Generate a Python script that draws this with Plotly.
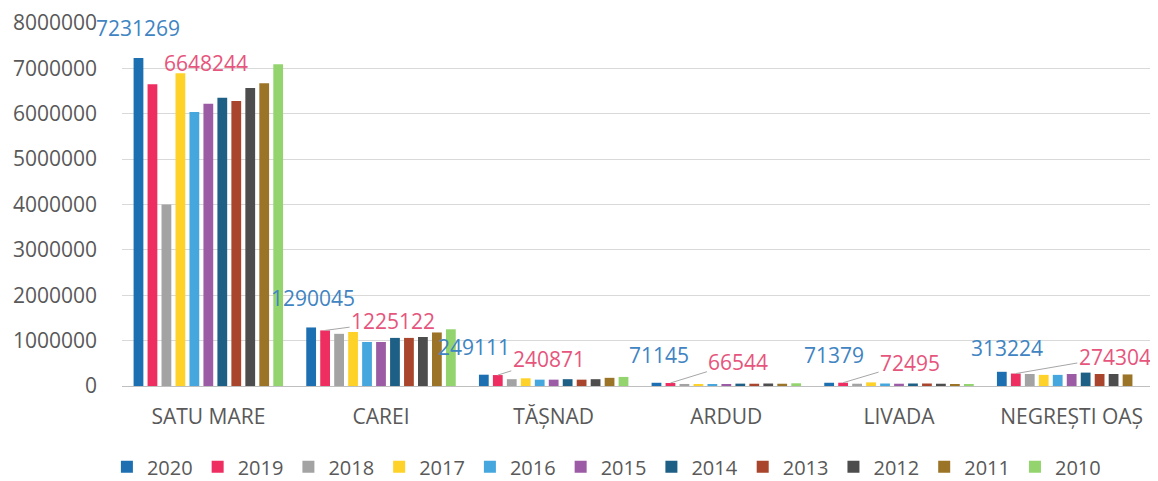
import plotly.graph_objects as go

categories = ["SATU MARE", "CAREI", "TĂȘNAD", "ARDUD", "LIVADA", "NEGREȘTI OAȘ"]
years = ["2020", "2019", "2018", "2017", "2016", "2015", "2014", "2013", "2012", "2011", "2010"]

v2020 = [7231269, 1290045, 249111, 71145, 71379, 313224]
v2019 = [6648244, 1225122, 240871, 66544, 72495, 274304]
v2018 = [4000000, 1150000, 150000, 45000, 50000, 265000]
v2017 = [6890000, 1190000, 170000, 40000, 80000, 245000]
v2016 = [6040000, 970000, 140000, 42000, 55000, 245000]
v2015 = [6220000, 970000, 140000, 44000, 50000, 265000]
v2014 = [6350000, 1060000, 150000, 52000, 55000, 295000]
v2013 = [6280000, 1060000, 140000, 50000, 55000, 265000]
v2012 = [6570000, 1080000, 150000, 55000, 50000, 265000]
v2011 = [6670000, 1180000, 180000, 50000, 40000, 255000]
v2010 = [7090000, 1250000, 200000, 60000, 30000, 0]

series = [v2020, v2019, v2018, v2017, v2016, v2015, v2014, v2013, v2012, v2011, v2010]

colors = ["#1c6fb0", "#ee2d60", "#a3a3a3", "#ffd22a", "#45a7de", "#9b5ba5",
          "#1d5f85", "#a9452c", "#4d4d4d", "#9b7427", "#93d46e"]

FONT = "Open Sans"
TXT = "#595959"
BARGAP = 0.11

fig = go.Figure()
for name, vals, col in zip(years, series, colors):
    fig.add_trace(go.Bar(name=name, x=categories, y=vals, marker=dict(color=col, line=dict(width=0))))

n = len(years)
w = 1 - BARGAP
def bar_x(i, j):
    return i - w / 2 + (j + 0.5) * w / n

# data labels for 2020 (no leader) and 2019 (with leader lines)
lbl2020_shift = [(0, 14), (2, 13), (-10, 12), (3, 12), (5, 12), (5, 8)]
lbl2019_off = [None, (68, -9), (51, -16), (68, -21), (67, -20), (99, -17)]
annotations = []
for i, cat in enumerate(categories):
    dx, dy = lbl2020_shift[i]
    annotations.append(dict(x=bar_x(i, 0), y=v2020[i], xref="x", yref="y",
                            text=str(v2020[i]), showarrow=False, yanchor="bottom",
                            xshift=dx, yshift=dy,
                            font=dict(family=FONT, size=21, color="#4084c2")))
    off = lbl2019_off[i]
    if off is None:
        annotations.append(dict(x=bar_x(i, 1), y=v2019[i], xref="x", yref="y",
                                text=str(v2019[i]), showarrow=False,
                                xshift=54, yshift=21,
                                font=dict(family=FONT, size=21, color="#e6557c")))
    else:
        annotations.append(dict(x=bar_x(i, 1), y=v2019[i], xref="x", yref="y",
                                text=str(v2019[i]), showarrow=True, arrowhead=0,
                                arrowwidth=1, arrowcolor="#a6a6a6", standoff=0,
                                ax=off[0], ay=off[1],
                                font=dict(family=FONT, size=21, color="#e6557c")))

fig.update_layout(
    width=1150, height=473,
    margin=dict(l=114, r=0, t=10, b=95),
    paper_bgcolor="white", plot_bgcolor="white",
    barmode="group", bargap=BARGAP, bargroupgap=0.3,
    font=dict(family=FONT, size=21, color=TXT),
    annotations=annotations,
    legend=dict(orientation="h", xref="container", yref="container",
                x=0.086, xanchor="left", y=0.03, yanchor="middle",
                font=dict(family=FONT, size=20, color=TXT),
                itemwidth=30, traceorder="normal"),
    showlegend=True,
)
fig.update_xaxes(type="category", range=[-0.5, 5.5], autorange=False,
                 tickfont=dict(family=FONT, size=21, color=TXT),
                 ticks="outside", ticklen=12, tickcolor="rgba(0,0,0,0)",
                 showline=True, linecolor="#bfbfbf", linewidth=1, showgrid=False)
fig.update_yaxes(range=[0, 8000000], autorange=False, dtick=1000000, tickformat="d",
                 tickfont=dict(family=FONT, size=21, color=TXT),
                 showgrid=True, gridcolor="#d9d9d9", gridwidth=1,
                 zeroline=False, showline=False, ticklabelstandoff=24,
                 ticklabeloverflow="allow")

fig.write_html("out.html")
